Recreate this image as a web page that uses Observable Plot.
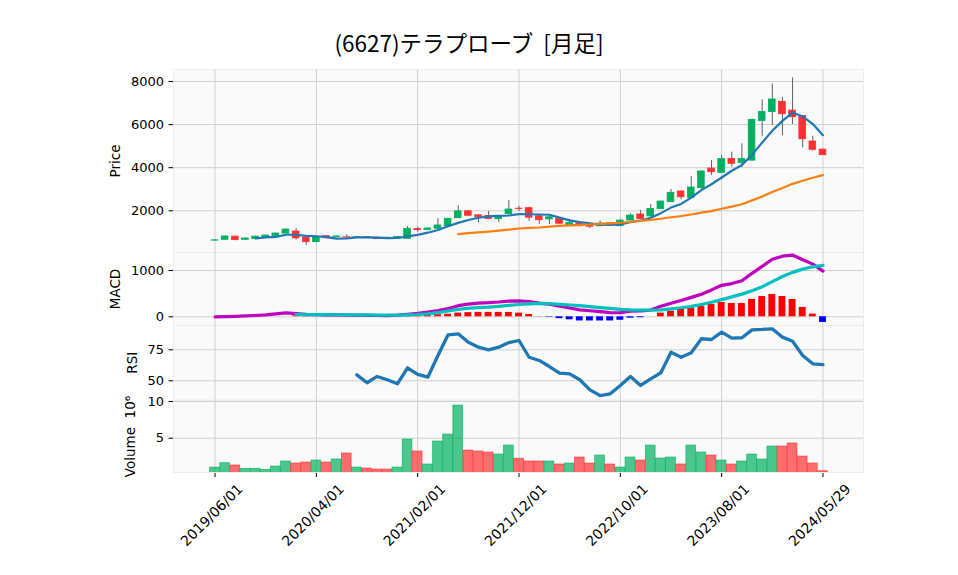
<!DOCTYPE html>
<html><head><meta charset="utf-8">
<script src="https://cdn.jsdelivr.net/npm/d3@7"></script>
<script src="https://cdn.jsdelivr.net/npm/@observablehq/plot@0.6"></script>
<style>
body{margin:0;background:#fff;}
#wrap{position:relative;width:958px;height:575px;overflow:hidden;background:#fff;}
#wrap svg{position:absolute;left:0;top:0;}
#title{position:absolute;left:0;top:31px;width:938px;text-align:center;font:22.5px "Noto Sans CJK JP";color:#000;line-height:1;}
</style></head><body>
<div id="wrap"><div id="title">(6627)テラプローブ&nbsp;&nbsp;[月足]</div></div>
<script>
// ---- data (monthly, index 0 = 2019/06) ----
const tickIndex  = [0, 10, 20, 30, 40, 50, 60];
const tickLabels = ["2019/06/01","2020/04/01","2021/02/01","2021/12/01","2022/10/01","2023/08/01","2024/05/29"];

const open  = [615,654,800,655,690,770,830,940,1040,760, 545,820,780,770,755,775,750,750,685,700, 1150,1100,1165,1285,1657,1975,1790,1760,1610,1840, 2100,2120,1745,1600,1620,1300,1410,1365,1285,1420, 1285,1550,1830,1740,2075,2400,2895,2600,3050,3960, 3760,4410,4210,4330,6160,6580,7060,6650,6400,5215, 4840];
const high  = [660,830,830,740,830,870,960,1175,1175,780, 790,850,830,890,790,790,770,760,800,1270, 1240,1200,1630,1650,2240,2000,1815,1965,1780,2480, 2210,2170,1770,1720,1640,1600,1430,1410,1530,1440, 1600,1870,2010,2290,2450,2990,2920,3590,3850,4330, 4570,4720,5110,6250,7150,7890,7270,8170,6420,5460, 4860];
const low   = [600,645,610,640,670,760,820,930,640,400, 520,700,760,740,740,740,670,670,670,690, 1010,1080,1150,1230,1640,1750,1440,1590,1450,1820, 1970,1500,1370,1370,1390,1290,1250,1170,1270,1340, 1270,1530,1600,1700,2060,2380,2510,2580,3000,3650, 3740,4020,4000,4300,5450,5960,5490,6000,4920,4770, 4570];
const close = [630,807,640,715,800,850,945,1130,720,545, 760,730,810,760,770,760,685,685,790,1165, 1100,1180,1320,1630,1975,1770,1700,1620,1760,2060, 2080,1680,1560,1700,1400,1440,1285,1260,1410,1360, 1545,1780,1610,2090,2430,2835,2630,3080,3825,3790, 4410,4180,4410,6220,6590,7165,6480,6340,5320,4830, 4580];
const volume = [1.0,1.6,1.28,0.83,0.83,0.69,1.14,1.83,1.55,1.69, 1.96,1.69,2.1,2.92,1.0,0.87,0.73,0.73,1.0,4.82, 3.19,1.42,4.55,5.5,9.45,3.32,3.19,3.05,2.78,4.0, 2.2,1.83,1.83,1.83,1.42,1.55,2.37,1.55,2.64,1.42, 1.0,2.37,1.96,4.0,2.23,2.37,1.42,4.0,3.05,2.64, 1.96,1.42,1.83,2.78,2.1,3.87,3.87,4.28,2.5,1.55, 0.5];
const macd = [0,4,10,18,28,42,62,85,70,52, 45,42,40,38,36,32,28,26,35,55, 75,100,135,180,240,275,295,305,320,339, 345,330,295,275,230,190,150,130,110,90, 87,120,125,145,229,292,353,419,488,581, 680,718,778,939,1089,1242,1309,1334,1232,1138, 988];
const signal = [null,null,null,null,null,null,null,null,50,47, 45,45,44,43,42,40,38,34,33,40, 50,65,90,125,160,185,200,210,225,245, 266,280,290,285,270,255,240,220,200,180, 162,150,145,145,150,170,195,225,265,315, 370,430,490,565,650,760,870,960,1030,1080, 1110];
const hist = [null,null,null,null,null,null,null,null,20,5, 0,-3,-4,-5,-6,-8,-10,-8,2,15, 25,35,45,55,80,90,95,95,95,94, 79,50,5,-10,-40,-65,-90,-90,-90,-90, -75,-30,-20,0,79,122,158,194,223,266, 310,288,288,374,439,482,439,374,202,58, -122];
const rsi = [null,null,null,null,null,null,null,null,null,null, null,null,null,null,54.8,48.4,53.5,50.8,47.6,60.5, 55.1,52.9,70.4,87.1,87.9,81.1,77.1,75,77.1,80.8, 82.5,69,66.4,61.5,56.1,55.6,50.8,42.7,38.1,39.5, 46.2,53.5,46.2,51.6,56.5,73.1,69,72.6,83.9,83.3, 89.2,84.4,84.7,91.1,91.4,91.9,85.2,81.9,70.4,63.7, 63.1];

const UP = "#00b060", DOWN = "#fe3032";
const rows = close.map((c, i) => ({
  i, o: open[i], h: high[i], l: low[i], c, v: volume[i],
  macd: macd[i], sig: signal[i], hist: hist[i], rsi: rsi[i],
  col: c >= open[i] ? UP : DOWN
}));

const W = 958, H = 575, ML = 173, MR = 95;
const xDomain = [-4.1, 64.0];
const FONT = "DejaVu Sans";
const GRID = "#d0d0d0";

function panel(top, bottom, yDomain, yTicks, label, labelDx, marks, bottomAxis = false) {
  const p = Plot.plot({
    width: W, height: H,
    marginLeft: ML, marginRight: MR, marginTop: top, marginBottom: H - bottom,
    style: {background: "transparent", fontFamily: FONT, fontSize: "13px", color: "#000", overflow: "visible"},
    color: {type: "identity"},
    x: bottomAxis
      ? {domain: xDomain, ticks: tickIndex, tickFormat: () => "", tickSize: 5, label: null}
      : {domain: xDomain, axis: null},
    y: {domain: yDomain, ticks: yTicks, tickSize: 4.5, tickPadding: 5, tickFormat: d => String(d), label: null},
    marks: [
      Plot.frame({fill: "#fafafa", stroke: "#ececec"}),
      Plot.ruleX(tickIndex, {x: d => d, stroke: GRID, strokeWidth: 1}),
      Plot.ruleY(yTicks, {y: d => d, stroke: GRID, strokeWidth: 1}),
      ...marks,
      Plot.text([label], {text: d => d, frameAnchor: "left", textAnchor: "middle", dx: labelDx, rotate: -90, fontSize: 13.5, fill: "#000"}),
      ...(bottomAxis ? [Plot.text(tickIndex, {x: d => d, text: (d, i) => tickLabels[i], frameAnchor: "bottom", dy: 46, rotate: -45, textAnchor: "middle", fontSize: 14, fill: "#000"})] : [])
    ]
  });
  document.getElementById("wrap").appendChild(p);
}

// Price panel
panel(69, 252, [65, 8557], [2000, 4000, 6000, 8000], "Price", -58, [
  Plot.ruleX(rows, {x: "i", y1: "l", y2: "h", stroke: "#606060", strokeWidth: 1}),
  Plot.rect(rows, {x1: d => d.i - 0.33, x2: d => d.i + 0.33, y1: "o", y2: "c", fill: "col", stroke: "col", strokeWidth: 0.8}),
  Plot.line(rows, Plot.windowY({k: 5, anchor: "end", strict: true, reduce: "mean"}, {x: "i", y: "c", stroke: "#1f77b4", strokeWidth: 2.2})),
  Plot.line(rows, Plot.windowY({k: 25, anchor: "end", strict: true, reduce: "mean"}, {x: "i", y: "c", stroke: "#ff7f0e", strokeWidth: 2.2}))
]);

// MACD panel
panel(252, 325, [-188, 1389], [0, 1000], "MACD", -58, [
  Plot.rect(rows.filter(d => d.hist != null), {x1: d => d.i - 0.34, x2: d => d.i + 0.34, y1: 0, y2: "hist", fill: d => d.hist >= 0 ? "#ff0000" : "#0000ff"}),
  Plot.line(rows, {x: "i", y: "macd", stroke: "#bf00bf", strokeWidth: 3.2}),
  Plot.line(rows.filter(d => d.sig != null), {x: "i", y: "sig", stroke: "#00bfbf", strokeWidth: 3.2})
]);

// RSI panel
panel(325, 399.5, [34.5, 94.6], [50, 75], "RSI", -41, [
  Plot.line(rows.filter(d => d.rsi != null), {x: "i", y: "rsi", stroke: "#1f77b4", strokeWidth: 3.3})
]);

// Volume panel
panel(400, 472, [0.33, 10.14], [5, 10], "Volume  10⁶", -43, [
  Plot.rect(rows, {x1: d => d.i - 0.48, x2: d => d.i + 0.48, y1: 0, y2: "v", fill: "col", fillOpacity: 0.7, stroke: "col", strokeOpacity: 0.75, strokeWidth: 0.8, clip: true})
], true);
</script>
</body></html>
